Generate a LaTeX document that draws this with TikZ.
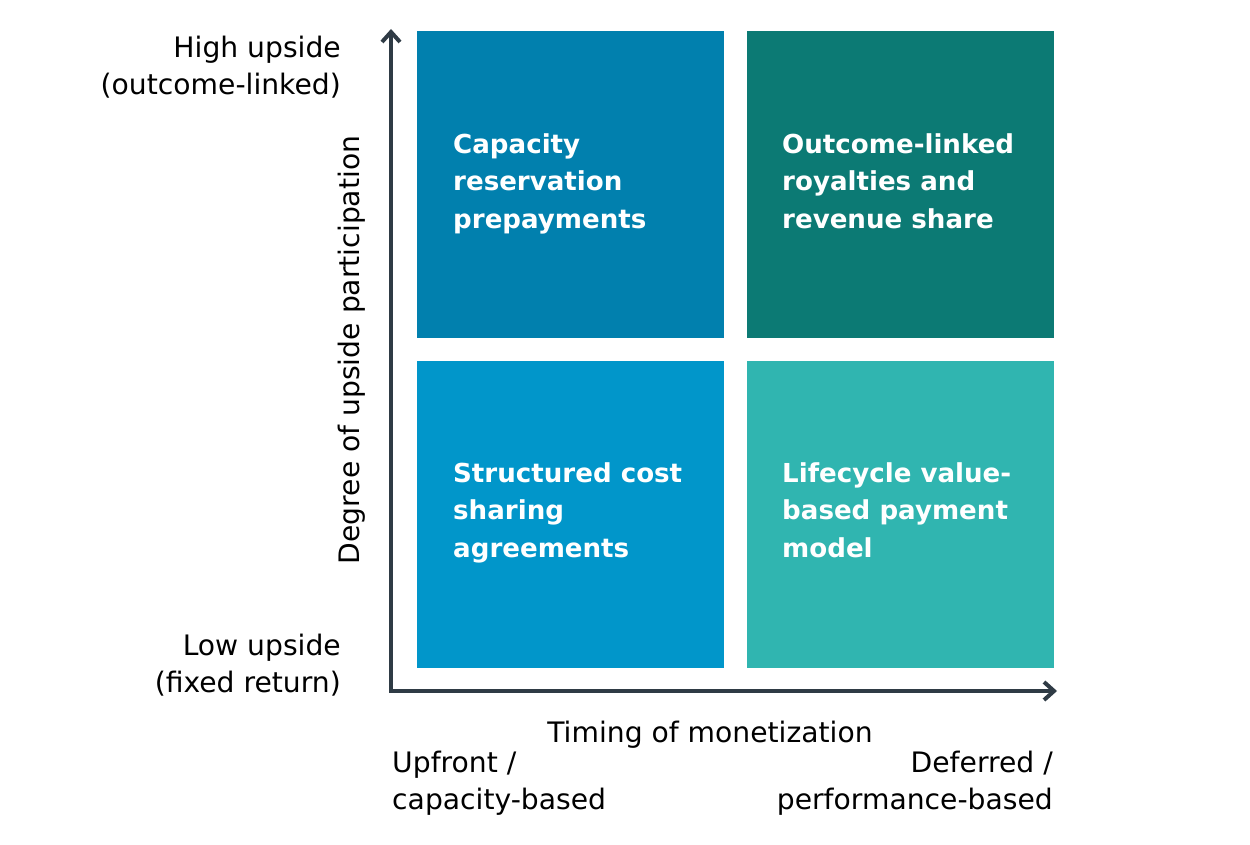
\documentclass[tikz,border=0pt]{standalone}
\usepackage{fontspec}
\setmainfont{DejaVu Sans}
\usetikzlibrary{arrows.meta}
\definecolor{axisc}{HTML}{2F3B45}
\definecolor{qtl}{HTML}{0180AE}
\definecolor{qtr}{HTML}{0C7A74}
\definecolor{qbl}{HTML}{0196CA}
\definecolor{qbr}{HTML}{30B5B0}
\begin{document}
\begin{tikzpicture}[x=1pt,y=-1pt,
  quad/.style={draw=none,minimum width=307pt,minimum height=307pt,inner sep=0pt,anchor=north west},
  qlabel/.style={text=white,font=\fontsize{26.1}{37.5}\selectfont\bfseries,align=left,anchor=north west,inner sep=0pt},
  axlabel/.style={text=black,font=\fontsize{28.2}{37.5}\selectfont,inner sep=0pt},
  axisline/.style={draw=axisc,line width=4pt,-{Straight Barb[length=10pt,width=18pt,line width=4pt]}}
]
\useasboundingbox (0,0) rectangle (1250,845);
\node[quad,fill=qtl] (tl) at (417,31) {};
\node[quad,fill=qtr] (tr) at (747,31) {};
\node[quad,fill=qbl] (bl) at (417,361) {};
\node[quad,fill=qbr] (br) at (747,361) {};
\node[qlabel] (tlt) at (453,133) {Capacity\\reservation\\prepayments};
\node[qlabel] (trt) at (782,133) {Outcome-linked\\royalties and\\revenue share};
\node[qlabel] (blt) at (453,462) {Structured cost\\sharing\\agreements};
\node[qlabel] (brt) at (782,462) {Lifecycle value-\\based payment\\model};
\coordinate (o) at (391,691);
\coordinate (ytop) at (391,29);
\coordinate (xend) at (1057,691);
\draw[axisline] (o) -- (ytop);
\draw[axisline] (o) -- (xend);
\draw[axisc,line width=4pt] (389,691) -- (393,691);
\node[axlabel,rotate=90] (ylab) at (352,350) {Degree of upside participation};
\node[axlabel,align=right,anchor=east] (hi) at (341,67) {High upside\\(outcome-linked)};
\node[axlabel,align=right,anchor=east] (lo) at (341,665) {Low upside\\(fixed return)};
\node[axlabel] (xlab) at (710,735) {Timing of monetization};
\node[axlabel,align=left,anchor=west] (up) at (392,783) {Upfront /\\capacity-based};
\node[axlabel,align=right,anchor=east] (def) at (1053,783) {Deferred /\\performance-based};
\end{tikzpicture}
\end{document}
